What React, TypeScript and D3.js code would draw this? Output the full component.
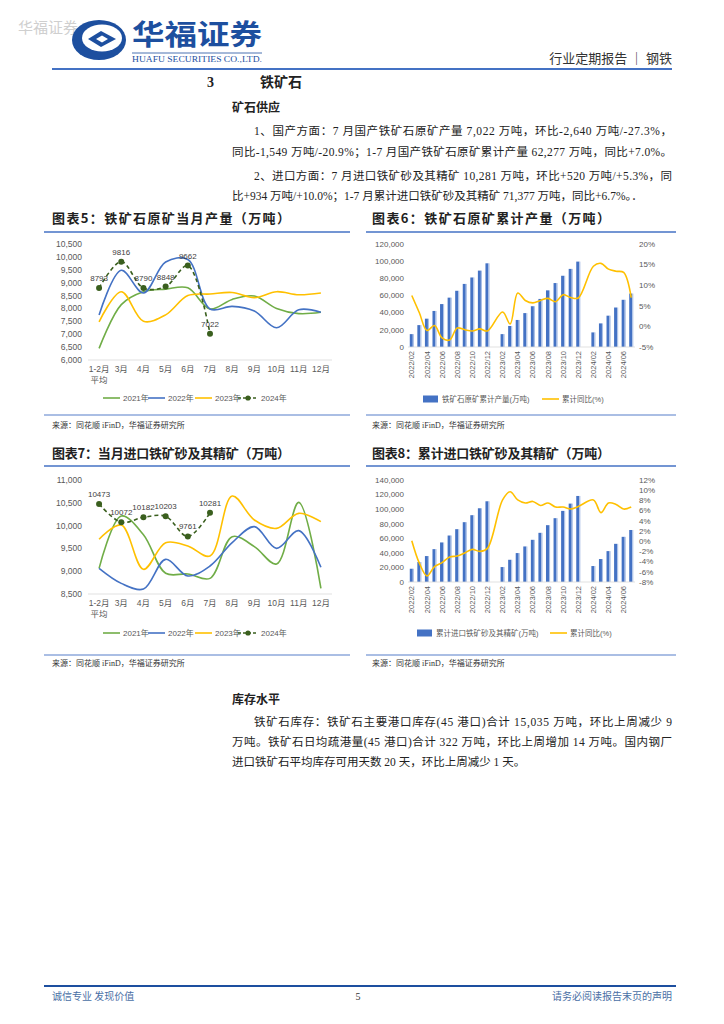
import React from "react";
import * as d3 from "d3";

// ---------- data ----------
const monthLabels = ["1-2月", "3月", "4月", "5月", "6月", "7月", "8月", "9月", "10月", "11月", "12月"];

const prod2021 = [6450, 8150, 8650, 8750, 8800, 7980, 8350, 8480, 8000, 7800, 7850];
const prod2022 = [7750, 9480, 8600, 9800, 9900, 7980, 8080, 7900, 7250, 7950, 7850];
const prod2023 = [7480, 8650, 7500, 7750, 8500, 8560, 8620, 8420, 8650, 8530, 8600];
const prod2024 = [8793, 9816, 8790, 8848, 9662, 7022];

const imp2021 = [9063, 10210, 9800, 8955, 8940, 8843, 9757, 9540, 9158, 10510, 8624];
const imp2022 = [9063, 8733, 8610, 9260, 8895, 9114, 9626, 9977, 9500, 9889, 9085];
const imp2023 = [9700, 10013, 9041, 9626, 9552, 9333, 10649, 10123, 9940, 10269, 10086];
const imp2024 = [10473, 10072, 10182, 10203, 9761, 10281];

const cumCats = [
  "2022/02", "2022/03", "2022/04", "2022/05", "2022/06", "2022/07", "2022/08", "2022/09", "2022/10", "2022/11", "2022/12",
  "2023/01", "2023/02", "2023/03", "2023/04", "2023/05", "2023/06", "2023/07", "2023/08", "2023/09", "2023/10", "2023/11", "2023/12",
  "2024/01", "2024/02", "2024/03", "2024/04", "2024/05", "2024/06", "2024/07",
];

const cumProd: (number | null)[] = [
  15000, 25500, 33000, 42000, 50000, 57500, 65500, 73500, 81000, 89000, 97500,
  null, 15000, 24500, 31500, 39500, 47500, 56000, 66000, 74500, 83000, 91000, 99500,
  null, 17000, 27500, 36500, 46000, 55000, 62277,
];
const cumProdYoy: (number | null)[] = [
  7.5, 3.3, -1.0, 0.2, -2.8, -3.3, -0.4, -0.8, -1.1, -0.6, -1.1,
  null, 3.5, 0.6, 8.1, 6.3, 5.7, 6.3, 6.8, 6.0, 7.7, 7.0, 6.9,
  null, 14.6, 15.3, 13.9, 13.4, 13.1, 7.0,
];

const cumImp: (number | null)[] = [
  18200, 27400, 35600, 45100, 54300, 63800, 72500, 82100, 91700, 101200, 110800,
  null, 20500, 30500, 39700, 48800, 57900, 67500, 78000, 87600, 97600, 107600, 118100,
  null, 21900, 31500, 42400, 52400, 62000, 71377,
];
const cumImpYoy: (number | null)[] = [
  0.1, -4.3, -6.8, -5.0, -4.2, -3.1, -2.9, -2.3, -1.6, -2.0, -1.4,
  null, 8.1, 9.7, 8.1, 7.5, 7.8, 7.0, 7.5, 6.7, 6.7, 6.3, 6.8,
  null, 8.1, 5.6, 7.5, 7.2, 6.3, 6.7,
];

const seriesNames = ["2021年", "2022年", "2023年", "2024年"];

// ---------- style ----------
const CJK = "'Noto Sans CJK SC', sans-serif";
const SERIF = "'Liberation Serif', 'Noto Sans CJK SC', serif";
const AXF = "'Liberation Sans', 'Noto Sans CJK SC', sans-serif";
const C2021 = "#70AD47";
const C2022 = "#4472C4";
const C2023 = "#FFC000";
const C2024 = "#3A5F1E";
const AXIS_TXT = "#595959";
const fmt = d3.format(",");

type LineProps = {
  series: number[][];
  yMin: number;
  yMax: number;
  step: number;
  yBottom: number;
  yTop: number;
  xLabelY: number;
  legendY: number;
};

function MonthlyLineChart({ series, yMin, yMax, step, yBottom, yTop, xLabelY, legendY }: LineProps) {
  const x = d3.scalePoint<string>().domain(monthLabels).range([88, 332]).padding(0.5);
  const y = d3.scaleLinear().domain([yMin, yMax]).range([yBottom, yTop]);
  const ticks = d3.range(yMin, yMax + 1, step);
  const line = d3.line<[number, number]>().curve(d3.curveCatmullRom.alpha(0.5));
  const colors = [C2021, C2022, C2023, C2024];
  const pts = (vals: number[]) => vals.map((v, i) => [x(monthLabels[i])!, y(v)] as [number, number]);
  const legendX = [103, 148, 195, 238];
  return (
    <g>
      {ticks.map((t) => (
        <text key={t} x={82} y={y(t)} dy="0.35em" textAnchor="end" fontSize={8.5} fill={AXIS_TXT} fontFamily={AXF}>
          {fmt(t)}
        </text>
      ))}
      <line x1={88} x2={332} y1={yBottom} y2={yBottom} stroke="#D9D9D9" strokeWidth={0.8} />
      {monthLabels.map((m) => (
        <text key={m} x={x(m)} y={xLabelY} textAnchor="middle" fontSize={8.5} fill={AXIS_TXT} fontFamily={AXF}>
          {m}
        </text>
      ))}
      <text x={x(monthLabels[0])} y={xLabelY + 11} textAnchor="middle" fontSize={8.5} fill={AXIS_TXT} fontFamily={AXF}>
        平均
      </text>
      {series.slice(0, 3).map((s, i) => (
        <path key={i} d={line(pts(s)) || ""} fill="none" stroke={colors[i]} strokeWidth={1.6} />
      ))}
      <path d={line(pts(series[3])) || ""} fill="none" stroke={C2024} strokeWidth={1.6} strokeDasharray="4,3" />
      {pts(series[3]).map(([px, py], i) => (
        <g key={i}>
          <circle cx={px} cy={py} r={3} fill={C2024} />
          <text x={px} y={py - 7} textAnchor="middle" fontSize={8} fill="#404040" fontFamily={AXF}>
            {series[3][i]}
          </text>
        </g>
      ))}
      {seriesNames.map((n, i) => (
        <g key={n}>
          {i < 3 ? (
            <line x1={legendX[i]} x2={legendX[i] + 17} y1={legendY} y2={legendY} stroke={colors[i]} strokeWidth={1.6} />
          ) : (
            <g>
              <line x1={legendX[i]} x2={legendX[i] + 20} y1={legendY} y2={legendY} stroke={C2024} strokeWidth={1.6} strokeDasharray="3,2" />
              <circle cx={legendX[i] + 10} cy={legendY} r={2.6} fill={C2024} />
            </g>
          )}
          <text x={legendX[i] + (i < 3 ? 20 : 23)} y={legendY} dy="0.35em" fontSize={8} fill={AXIS_TXT} fontFamily={AXF}>
            {n}
          </text>
        </g>
      ))}
    </g>
  );
}

type ComboProps = {
  bars: (number | null)[];
  yoy: (number | null)[];
  leftMax: number;
  leftStep: number;
  rMin: number;
  rMax: number;
  rStep: number;
  yBottom: number;
  yTop: number;
  legendY: number;
  barName: string;
  legendX: number[];
};

function ComboChart({ bars, yoy, leftMax, leftStep, rMin, rMax, rStep, yBottom, yTop, legendY, barName, legendX }: ComboProps) {
  const x = d3.scaleBand<string>().domain(cumCats).range([408, 635]);
  const yL = d3.scaleLinear().domain([0, leftMax]).range([yBottom, yTop]);
  const yR = d3.scaleLinear().domain([rMin, rMax]).range([yBottom, yTop]);
  const lt = d3.range(0, leftMax + 1, leftStep);
  const rt = d3.range(rMin, rMax + 0.001, rStep);
  const bw = x.bandwidth();
  const cx = (c: string) => x(c)! + bw / 2;
  const linePts: [number, number][] = [];
  yoy.forEach((v, i) => {
    if (v !== null) linePts.push([cx(cumCats[i]), yR(v)]);
  });
  const line = d3.line<[number, number]>().curve(d3.curveCatmullRom.alpha(0.5));
  return (
    <g>
      {lt.map((t) => (
        <text key={t} x={404} y={yL(t)} dy="0.35em" textAnchor="end" fontSize={8} fill={AXIS_TXT} fontFamily={AXF}>
          {fmt(t)}
        </text>
      ))}
      {rt.map((t) => (
        <text key={t} x={639} y={yR(t)} dy="0.35em" textAnchor="start" fontSize={8} fill={AXIS_TXT} fontFamily={AXF}>
          {Math.round(t)}%
        </text>
      ))}
      {bars.map((v, i) =>
        v === null ? null : (
          <g key={i}>
            <rect x={cx(cumCats[i]) - 2} y={yL(v)} width={3} height={yBottom - yL(v)} fill="#4472C4" />
            <rect x={cx(cumCats[i]) + 1} y={yL(v)} width={1.1} height={yBottom - yL(v)} fill="#A9BFE6" />
          </g>
        )
      )}
      <line x1={408} x2={635} y1={yBottom} y2={yBottom} stroke="#D9D9D9" strokeWidth={0.8} />
      <path d={line(linePts) || ""} fill="none" stroke={C2023} strokeWidth={1.6} />
      {cumCats.map((c, i) =>
        i % 2 === 0 ? (
          <text
            key={c}
            transform={`translate(${cx(c)},${yBottom + 4}) rotate(-90)`}
            dy="0.35em"
            textAnchor="end"
            fontSize={7.5}
            fill={AXIS_TXT}
            fontFamily={AXF}
          >
            {c}
          </text>
        ) : null
      )}
      <rect x={legendX[0]} y={legendY - 3.5} width={15} height={7} fill="#4472C4" />
      <text x={legendX[0] + 19} y={legendY} dy="0.35em" fontSize={7.5} fill={AXIS_TXT} fontFamily={AXF}>
        {barName}
      </text>
      <line x1={legendX[1]} x2={legendX[1] + 17} y1={legendY} y2={legendY} stroke={C2023} strokeWidth={1.6} />
      <text x={legendX[1] + 20} y={legendY} dy="0.35em" fontSize={7.5} fill={AXIS_TXT} fontFamily={AXF}>
        累计同比(%)
      </text>
    </g>
  );
}

function Logo() {
  return (
    <g>
      <ellipse cx={99} cy={40} rx={27} ry={20} fill="#1D4F9F" />
      <ellipse cx={102} cy={38} rx={20} ry={13.5} fill="#fff" />
      <path d="M 88 39 L 101 31 L 116 39 L 101 47 Z" fill="#1D4F9F" />
      <path d="M 96 39 L 102 35.5 L 108 39 L 102 42.5 Z" fill="#fff" />
    </g>
  );
}

export default function App() {
  const txt = "#222";
  return (
    <svg width={724} height={1024} viewBox="0 0 724 1024" style={{ position: "absolute", left: 0, top: 0, background: "#fff" }}>
      <rect width={724} height={1024} fill="#fff" />
      {/* header */}
      <text x={18} y={33} fontSize={15} fill="#cfcfcf" fontFamily={CJK}>华福证券</text>
      <Logo />
      <text x={132} y={45} fontSize={28} fontWeight={700} fill="#1D4F9F" fontFamily={CJK} textLength={130} lengthAdjust="spacingAndGlyphs">
        华福证券
      </text>
      <line x1={132} x2={262} y1={53} y2={53} stroke="#1D4F9F" strokeWidth={0.8} />
      <text x={132} y={61.5} fontSize={7.5} fill="#1D4F9F" fontFamily={SERIF} textLength={130} lengthAdjust="spacingAndGlyphs">
        HUAFU SECURITIES CO.,LTD.
      </text>
      <text x={672} y={63} textAnchor="end" fontSize={13} fill="#333" fontFamily={CJK}>行业定期报告 ｜ 钢铁</text>
      <line x1={52} x2={672} y1={69} y2={69} stroke="#4472C4" strokeWidth={2} />

      {/* section */}
      <text x={207} y={87} fontSize={14} fontWeight={700} fill={txt} fontFamily={SERIF}>3</text>
      <text x={260} y={87} fontSize={14} fontWeight={700} fill={txt} fontFamily={CJK}>铁矿石</text>
      <text x={232} y={112} fontSize={12} fontWeight={700} fill={txt} fontFamily={CJK}>矿石供应</text>
      <g fontSize={11.5} fill={txt} fontFamily={SERIF}>
        <text x={254} y={135} textLength={418} lengthAdjust="spacing">1、国产方面：7 月国产铁矿石原矿产量 7,022 万吨，环比-2,640 万吨/-27.3%，</text>
        <text x={232} y={156} textLength={440} lengthAdjust="spacing">同比-1,549 万吨/-20.9%；1-7 月国产铁矿石原矿累计产量 62,277 万吨，同比+7.0%。</text>
        <text x={254} y={180} textLength={418} lengthAdjust="spacing">2、进口方面：7 月进口铁矿砂及其精矿 10,281 万吨，环比+520 万吨/+5.3%，同</text>
        <text x={232} y={200}>比+934 万吨/+10.0%；1-7 月累计进口铁矿砂及其精矿 71,377 万吨，同比+6.7%。．</text>
      </g>

      {/* chart titles row 1 */}
      <text x={52} y={223} fontSize={13} fontWeight={700} fill={txt} fontFamily={CJK} textLength={238} lengthAdjust="spacing">图表5：铁矿石原矿当月产量（万吨）</text>
      <text x={372} y={223} fontSize={13} fontWeight={700} fill={txt} fontFamily={CJK} textLength={238} lengthAdjust="spacing">图表6：铁矿石原矿累计产量（万吨）</text>
      <line x1={44} x2={350} y1={232} y2={232} stroke="#4472C4" strokeWidth={1.5} />
      <line x1={366} x2={676} y1={232} y2={232} stroke="#4472C4" strokeWidth={1.5} />

      <MonthlyLineChart
        series={[prod2021, prod2022, prod2023, prod2024]}
        yMin={6000}
        yMax={10500}
        step={500}
        yBottom={360}
        yTop={244}
        xLabelY={372}
        legendY={398}
      />
      <ComboChart
        bars={cumProd}
        yoy={cumProdYoy}
        leftMax={120000}
        leftStep={20000}
        rMin={-5}
        rMax={20}
        rStep={5}
        yBottom={347}
        yTop={244}
        legendY={399}
        barName="铁矿石原矿累计产量(万吨)"
        legendX={[423, 542]}
      />

      <line x1={44} x2={350} y1={415} y2={415} stroke="#8EA9DB" strokeWidth={1.5} />
      <line x1={366} x2={676} y1={415} y2={415} stroke="#8EA9DB" strokeWidth={1.5} />
      <text x={52} y={428} fontSize={8} fill="#333" fontFamily={SERIF}>来源：同花顺 iFinD，华福证券研究所</text>
      <text x={372} y={428} fontSize={8} fill="#333" fontFamily={SERIF}>来源：同花顺 iFinD，华福证券研究所</text>

      {/* chart titles row 2 */}
      <text x={52} y={458} fontSize={13} fontWeight={700} fill={txt} fontFamily={CJK} textLength={238} lengthAdjust="spacing">图表7：当月进口铁矿砂及其精矿（万吨）</text>
      <text x={372} y={458} fontSize={13} fontWeight={700} fill={txt} fontFamily={CJK} textLength={238} lengthAdjust="spacing">图表8：累计进口铁矿砂及其精矿（万吨）</text>
      <line x1={44} x2={350} y1={466} y2={466} stroke="#4472C4" strokeWidth={1.5} />
      <line x1={366} x2={676} y1={466} y2={466} stroke="#4472C4" strokeWidth={1.5} />

      <MonthlyLineChart
        series={[imp2021, imp2022, imp2023, imp2024]}
        yMin={8500}
        yMax={11000}
        step={500}
        yBottom={594}
        yTop={480}
        xLabelY={606}
        legendY={633}
      />
      <ComboChart
        bars={cumImp}
        yoy={cumImpYoy}
        leftMax={140000}
        leftStep={20000}
        rMin={-8}
        rMax={12}
        rStep={2}
        yBottom={582}
        yTop={480}
        legendY={633}
        barName="累计进口铁矿砂及其精矿(万吨)"
        legendX={[417, 550]}
      />

      <line x1={44} x2={350} y1={655} y2={655} stroke="#8EA9DB" strokeWidth={1.5} />
      <line x1={366} x2={676} y1={655} y2={655} stroke="#8EA9DB" strokeWidth={1.5} />
      <text x={52} y={666} fontSize={8} fill="#333" fontFamily={SERIF}>来源：同花顺 iFinD，华福证券研究所</text>
      <text x={372} y={666} fontSize={8} fill="#333" fontFamily={SERIF}>来源：同花顺 iFinD，华福证券研究所</text>

      {/* inventory */}
      <text x={232} y={704} fontSize={12} fontWeight={700} fill={txt} fontFamily={CJK}>库存水平</text>
      <g fontSize={11.5} fill={txt} fontFamily={SERIF}>
        <text x={254} y={726} textLength={418} lengthAdjust="spacing">铁矿石库存：铁矿石主要港口库存(45 港口)合计 15,035 万吨，环比上周减少 9</text>
        <text x={232} y={746} textLength={440} lengthAdjust="spacing">万吨。铁矿石日均疏港量(45 港口)合计 322 万吨，环比上周增加 14 万吨。国内钢厂</text>
        <text x={232} y={766}>进口铁矿石平均库存可用天数 20 天，环比上周减少 1 天。</text>
      </g>

      {/* footer */}
      <line x1={44} x2={676} y1={986} y2={986} stroke="#1D4F9F" strokeWidth={2} />
      <text x={52} y={1000} fontSize={10} fill="#4a6fa5" fontFamily={CJK}>诚信专业  发现价值</text>
      <text x={358} y={1000} textAnchor="middle" fontSize={10} fill="#333" fontFamily={SERIF}>5</text>
      <text x={672} y={1000} textAnchor="end" fontSize={10} fill="#4a6fa5" fontFamily={CJK}>请务必阅读报告末页的声明</text>
    </svg>
  );
}
